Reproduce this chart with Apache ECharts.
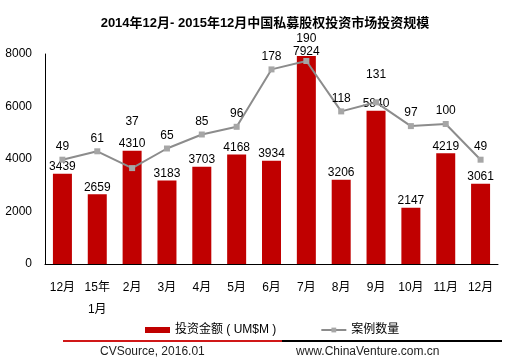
<!DOCTYPE html>
<html><head><meta charset="utf-8">
<script src="https://cdn.jsdelivr.net/npm/echarts@6/dist/echarts.min.js"></script>
<style>html,body{margin:0;padding:0;background:#fff}#c{width:528px;height:364px}</style>
</head><body><div id="c"></div>
<script>
var categories = ['12月','15年\n1月','2月','3月','4月','5月','6月','7月','8月','9月','10月','11月','12月'];
var amounts = [3439,2659,4310,3183,3703,4168,3934,7924,3206,5840,2147,4219,3061];
var counts = [49,61,37,65,85,96,178,190,118,131,97,100,49];
var leftTicks = [0,2000,4000,6000,8000];
var seriesNames = ['投资金额 ( UM$M )','案例数量'];
var titleText = '2014年12月- 2015年12月中国私募股权投资市场投资规模';
var footerLeft = 'CVSource, 2016.01';
var footerRight = 'www.ChinaVenture.com.cn';

var FONT = '"Liberation Sans","Noto Sans CJK SC",Arial,sans-serif';
var nudge = {2: -33, 7: -9, 9: -15};
var lineData = counts.map(function(v, i){
  var d = {value: v};
  if (nudge[i] !== undefined) d.label = {offset: [0, nudge[i]]};
  return d;
});
var barData = amounts.map(function(v, i){
  var d = {value: v};
  if (i === 7) d.label = {offset: [0, 3]};
  return d;
});
var chart = echarts.init(document.getElementById('c'), null, {renderer: 'canvas'});
chart.setOption({
  animation: false,
  textStyle: {fontFamily: FONT},
  title: {text: titleText, left: 260, textAlign: 'center', top: 12,
    textStyle: {fontSize: 13, fontWeight: 'bold', color: '#000', fontFamily: FONT}},
  grid: {left: 45, right: 30, top: 54, bottom: 100},
  legend: {
    top: 319, left: 140, itemGap: 44, itemWidth: 25, itemHeight: 6,
    textStyle: {fontSize: 12, color: '#000', fontFamily: FONT},
    data: [{name: seriesNames[0], icon: 'rect'}, {name: seriesNames[1]}]
  },
  xAxis: {type: 'category', data: categories,
    axisLine: {lineStyle: {color: '#000', width: 1}},
    axisTick: {show: false},
    axisLabel: {color: '#000', fontSize: 12, margin: 13, lineHeight: 22, interval: 0, fontFamily: FONT}},
  yAxis: [
    {type: 'value', min: leftTicks[0], max: leftTicks[leftTicks.length-1], interval: 2000,
      axisLine: {show: true, lineStyle: {color: '#000', width: 1}},
      axisTick: {show: false}, splitLine: {show: false},
      axisLabel: {color: '#000', fontSize: 12, margin: 13, fontFamily: FONT,
        formatter: function(v){ return String(v); }}},
    {type: 'value', min: -100, max: 200, show: false, splitLine: {show: false}}
  ],
  series: [
    {name: seriesNames[0], type: 'bar', data: barData, barWidth: 19,
      itemStyle: {color: '#C00000'},
      label: {show: true, position: 'top', distance: 1, color: '#000', fontSize: 12, fontFamily: FONT}},
    {name: seriesNames[1], type: 'line', yAxisIndex: 1, data: lineData,
      symbol: 'rect', symbolSize: 6,
      lineStyle: {color: '#8c8c8c', width: 2},
      itemStyle: {color: '#a6a6a6'},
      label: {show: true, position: 'top', distance: 4, color: '#000', fontSize: 12, fontFamily: FONT}}
  ],
  graphic: [
    {type: 'line', shape: {x1: 63, y1: 341, x2: 282, y2: 341}, style: {stroke: '#d01818', lineWidth: 2}},
    {type: 'line', shape: {x1: 282, y1: 341, x2: 502, y2: 341}, style: {stroke: '#000', lineWidth: 2}},
    {type: 'text', left: 100, top: 346, style: {text: footerLeft, fill: '#222', font: '12px ' + FONT}},
    {type: 'text', left: 296, top: 346, style: {text: footerRight, fill: '#222', font: '12px ' + FONT}}
  ]
});
</script></body></html>
